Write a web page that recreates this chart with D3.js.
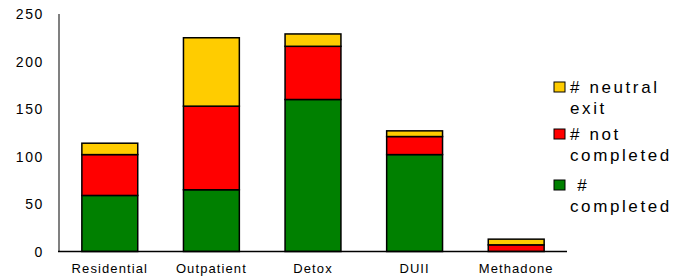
<!DOCTYPE html>
<html>
<head>
<meta charset="utf-8">
<script src="https://cdn.jsdelivr.net/npm/d3@7"></script>
<style>
  body { margin: 0; background: #fff; }
  text { font-family: "Liberation Sans", Arial, sans-serif; fill: #000; }
</style>
</head>
<body>
<script>
const categories = ['Residential', 'Outpatient', 'Detox', 'DUII', 'Methadone']
const completed = [59, 65, 160, 102, 0]
const notCompleted = [43, 88, 56, 19, 7]
const neutralExit = [12, 72, 13, 6, 6]
const yTicks = [0, 50, 100, 150, 200, 250]

const seriesNames = ['# completed', '# not completed', '# neutral exit']
const seriesColors = ['#008000', '#FF0000', '#FFCC00']
// legend text wraps like the original
const legendLines = [['# neutral', 'exit'], ['# not', 'completed'], [' #', 'completed']]

const width = 691, height = 277
const margin = { top: 14, left: 59, right: 124, bottom: 25 }

const svg = d3.select('body').append('svg')
    .attr('width', width)
    .attr('height', height)

const rows = categories.map((c, i) => ({
    cat: c,
    '# completed': completed[i],
    '# not completed': notCompleted[i],
    '# neutral exit': neutralExit[i]
}))

const stacked = d3.stack().keys(seriesNames)(rows)

const xScale = d3.scaleBand()
    .domain(categories)
    .range([margin.left, width - margin.right])
    .paddingInner(0.45)
    .paddingOuter(0.225)

const yScale = d3.scaleLinear()
    .domain([0, 250])
    .range([height - margin.bottom - 0.5, margin.top])

// y axis (grey line, no ticks)
svg.append('line')
    .attr('x1', margin.left).attr('x2', margin.left)
    .attr('y1', yScale(250)).attr('y2', yScale(0))
    .attr('stroke', '#808080')
    .attr('stroke-width', 2)

svg.selectAll('.ytick').data(yTicks)
    .enter()
    .append('text')
    .attr('x', 44)
    .attr('y', d => yScale(d) + 5)
    .attr('text-anchor', 'end')
    .style('font-size', '14px')
    .style('letter-spacing', '1.6px')
    .text(d => d)

// bars
svg.selectAll('.layer').data(stacked)
    .enter()
    .append('g')
    .attr('fill', (d, i) => seriesColors[i])
    .selectAll('rect')
    .data(d => d.filter(p => p[1] - p[0] > 0))
    .enter()
    .append('rect')
    .attr('x', d => xScale(d.data.cat))
    .attr('y', d => yScale(d[1]))
    .attr('width', xScale.bandwidth())
    .attr('height', d => yScale(d[0]) - yScale(d[1]))
    .attr('stroke', '#000')
    .attr('stroke-width', 1.5)

// x axis line
svg.append('line')
    .attr('x1', margin.left - 1).attr('x2', width - margin.right)
    .attr('y1', yScale(0)).attr('y2', yScale(0))
    .attr('stroke', '#000')
    .attr('stroke-width', 1.5)

svg.selectAll('.xlab').data(categories)
    .enter()
    .append('text')
    .attr('x', d => xScale(d) + xScale.bandwidth() / 2)
    .attr('y', 273)
    .attr('text-anchor', 'middle')
    .style('font-size', '13px')
    .style('letter-spacing', '1.1px')
    .text(d => d)

// legend
const legendY = [87, 134, 185]
const legend = svg.selectAll('.legend').data([2, 1, 0])
    .enter()
    .append('g')

legend.append('rect')
    .attr('x', 554)
    .attr('y', (d, i) => legendY[i] - 5)
    .attr('width', 11)
    .attr('height', 10)
    .attr('fill', d => seriesColors[d])
    .attr('stroke', '#000')
    .attr('stroke-width', 1)

legend.each(function (d, i) {
    const t = d3.select(this).append('text')
        .attr('x', 570)
        .attr('y', legendY[i] + 6)
        .style('font-size', '17px')
        .style('letter-spacing', '2.6px')
        .style('white-space', 'pre')
    legendLines[i].forEach((line, j) => {
        t.append('tspan')
            .attr('x', 570)
            .attr('dy', j === 0 ? 0 : 21)
            .text(line)
    })
})
</script>
</body>
</html>
